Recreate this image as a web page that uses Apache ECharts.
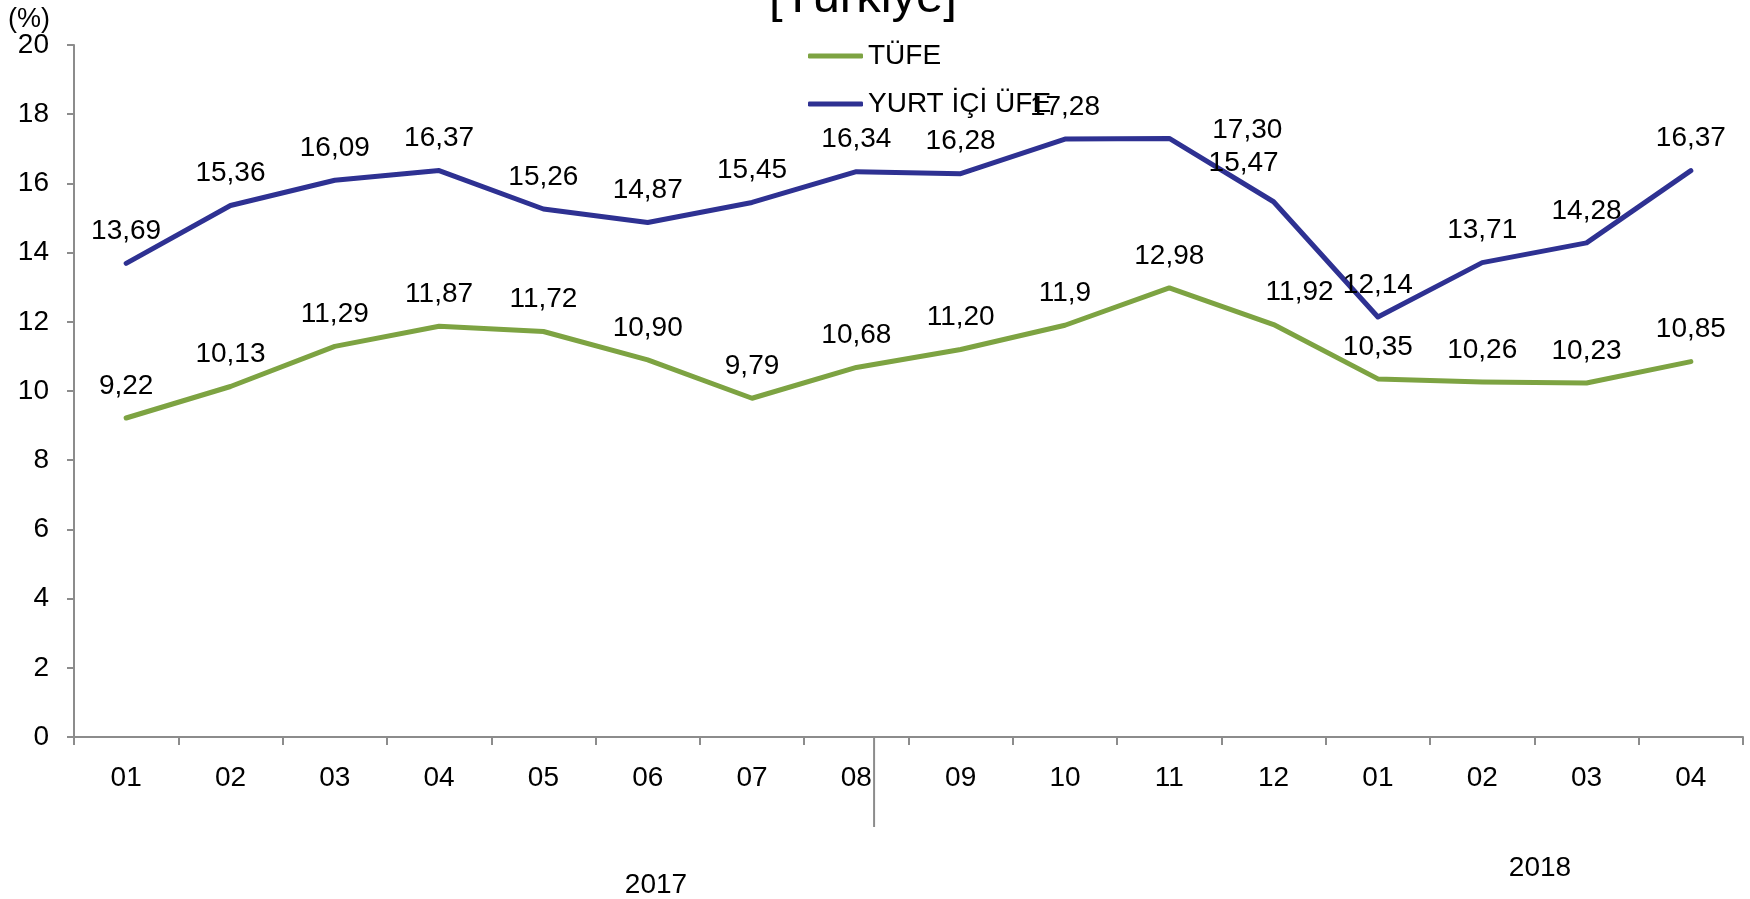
<!DOCTYPE html>
<html>
<head>
<meta charset="utf-8">
<script src="https://cdn.jsdelivr.net/npm/echarts@6/dist/echarts.min.js"></script>
<style>
  html, body { margin: 0; padding: 0; background: #fff; }
  #main { width: 1750px; height: 899px; }
</style>
</head>
<body>
<div id="main"></div>
<script>
// aylar (kategori)
var months = ['01','02','03','04','05','06','07','08','09','10','11','12','01','02','03','04'];
// TÜFE yıllık değişim (%)
var tufe = [9.22, 10.13, 11.29, 11.87, 11.72, 10.90, 9.79, 10.68, 11.20, 11.90, 12.98, 11.92, 10.35, 10.26, 10.23, 10.85];
var tufeLabels = ['9,22','10,13','11,29','11,87','11,72','10,90','9,79','10,68','11,20','11,9','12,98','11,92','10,35','10,26','10,23','10,85'];
// Yurt içi ÜFE yıllık değişim (%)
var ufe = [13.69, 15.36, 16.09, 16.37, 15.26, 14.87, 15.45, 16.34, 16.28, 17.28, 17.30, 15.47, 12.14, 13.71, 14.28, 16.37];
var ufeLabels = ['13,69','15,36','16,09','16,37','15,26','14,87','15,45','16,34','16,28','17,28','17,30','15,47','12,14','13,71','14,28','16,37'];
var yTicks = [0, 2, 4, 6, 8, 10, 12, 14, 16, 18, 20];

var FONT = 'Liberation Sans, Arial, sans-serif';
var GREEN = '#7da342';
var BLUE = '#2e3192';

// etiket kaydırmaları (indeks -> [dx, dy])
var tufeShift = { 11: [26, 0] };
var ufeShift = { 10: [78, 24], 11: [-30, -6] };

function buildData(vals, labels, shift) {
    return vals.map(function (v, i) {
        var item = { value: v, label: { show: true, formatter: labels[i] } };
        if (shift[i]) item.label.offset = shift[i];
        return item;
    });
}

var e = echarts.init(document.getElementById('main'));
var option = {
    animation: false,
    backgroundColor: '#fff',
    textStyle: { fontFamily: FONT },
    legend: {
        orient: 'vertical',
        left: 803,
        top: 37,
        itemWidth: 55,
        itemHeight: 5,
        itemGap: 20,
        icon: 'roundRect',
        textStyle: { fontSize: 28, color: '#000', fontFamily: FONT },
        data: ['TÜFE', 'YURT İÇİ ÜFE']
    },
    grid: { left: 74, right: 7, top: 45, bottom: 162 },
    xAxis: {
        type: 'category',
        data: months,
        boundaryGap: true,
        axisLine: { lineStyle: { color: '#8c8c8c', width: 2 } },
        axisTick: { show: true, length: 8, inside: false, lineStyle: { color: '#8c8c8c', width: 2 } },
        axisLabel: { fontSize: 28, color: '#000', margin: 27, fontFamily: FONT }
    },
    yAxis: {
        type: 'value',
        min: yTicks[0],
        max: yTicks[yTicks.length - 1],
        interval: 2,
        splitLine: { show: false },
        axisLine: { show: true, lineStyle: { color: '#8c8c8c', width: 2 } },
        axisTick: { show: true, length: 7, lineStyle: { color: '#8c8c8c', width: 2 } },
        axisLabel: { fontSize: 28, color: '#000', margin: 25, fontFamily: FONT }
    },
    series: [
        {
            name: 'TÜFE',
            type: 'line',
            data: buildData(tufe, tufeLabels, tufeShift),
            symbol: 'circle',
            symbolSize: 0,
            showSymbol: true,
            color: GREEN,
            lineStyle: { width: 5, color: GREEN, cap: 'round', join: 'round' },
            label: { show: true, position: 'top', distance: 18, fontSize: 28, color: '#000', fontFamily: FONT }
        },
        {
            name: 'YURT İÇİ ÜFE',
            type: 'line',
            data: buildData(ufe, ufeLabels, ufeShift),
            symbol: 'circle',
            symbolSize: 0,
            showSymbol: true,
            color: BLUE,
            lineStyle: { width: 5, color: BLUE, cap: 'round', join: 'round' },
            label: { show: true, position: 'top', distance: 18, fontSize: 28, color: '#000', fontFamily: FONT }
        }
    ]
};
e.setOption(option);

// yıl ayırıcı çizgi ve yıl etiketleri
var p7 = e.convertToPixel({ xAxisIndex: 0 }, 7);
var p8 = e.convertToPixel({ xAxisIndex: 0 }, 8);
var step = p8 - p7;
var sepX = p7 + step * 0.17;
var y0 = e.convertToPixel({ yAxisIndex: 0 }, 0);

e.setOption({
    graphic: [
        {
            type: 'text', x: 863, y: 23,
            style: { text: '[Türkiye]', font: '49px ' + FONT, fill: '#000', align: 'center', verticalAlign: 'bottom' }
        },
        {
            type: 'text', left: 8, top: 6,
            style: { text: '(%)', font: '27px ' + FONT, fill: '#000' }
        },
        {
            type: 'line',
            shape: { x1: sepX, y1: y0, x2: sepX, y2: y0 + 90 },
            style: { stroke: '#8c8c8c', lineWidth: 2 }
        },
        {
            type: 'text', x: 656, y: 885,
            style: { text: '2017', font: '28px ' + FONT, fill: '#000', align: 'center', verticalAlign: 'middle' }
        },
        {
            type: 'text', x: 1540, y: 868,
            style: { text: '2018', font: '28px ' + FONT, fill: '#000', align: 'center', verticalAlign: 'middle' }
        }
    ]
});
window.addEventListener('resize', function () { e.resize(); });
</script>
</body>
</html>
